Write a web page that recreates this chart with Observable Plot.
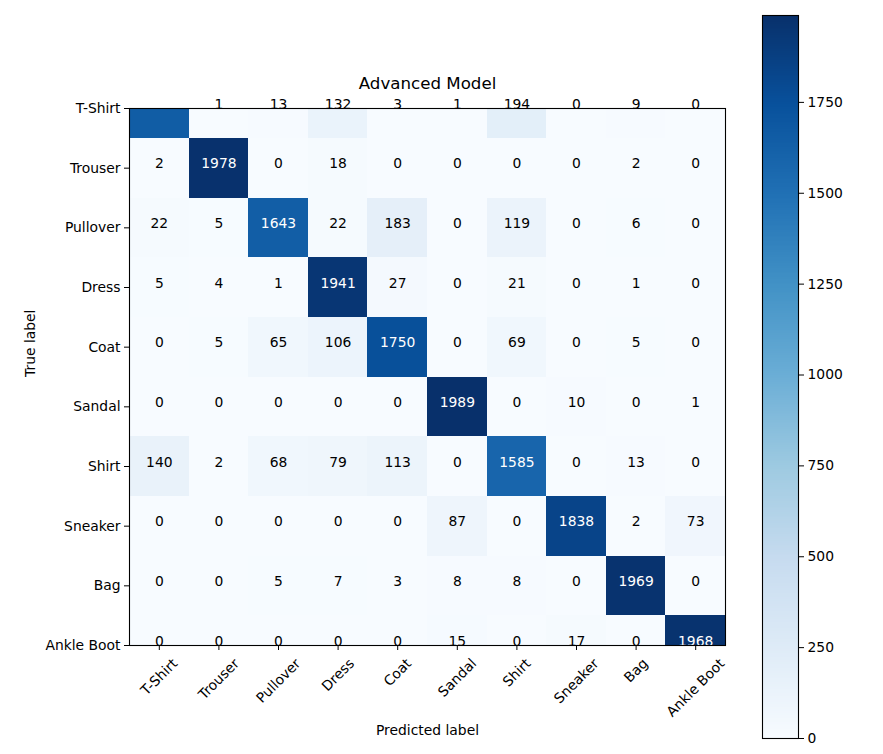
<!DOCTYPE html>
<html><head><meta charset="utf-8">
<script src="https://cdn.jsdelivr.net/npm/d3@7"></script>
<script src="https://cdn.jsdelivr.net/npm/@observablehq/plot@0.6"></script>
<style>
html,body{margin:0;padding:0;background:#fff;}
#wrap{position:relative;width:883px;height:754px;overflow:hidden;}
#wrap svg{position:absolute;top:0;}
</style></head><body><div id="wrap"></div>
<script>
// Class names (true rows / predicted columns)
const classes = ["T-Shirt","Trouser","Pullover","Dress","Coat","Sandal","Shirt","Sneaker","Bag","Ankle Boot"];
// Confusion matrix rows (true label), columns = predicted label
const tShirtRow    = [1647, 1, 13, 132, 3, 1, 194, 0, 9, 0];
const trouserRow   = [2, 1978, 0, 18, 0, 0, 0, 0, 2, 0];
const pulloverRow  = [22, 5, 1643, 22, 183, 0, 119, 0, 6, 0];
const dressRow     = [5, 4, 1, 1941, 27, 0, 21, 0, 1, 0];
const coatRow      = [0, 5, 65, 106, 1750, 0, 69, 0, 5, 0];
const sandalRow    = [0, 0, 0, 0, 0, 1989, 0, 10, 0, 1];
const shirtRow     = [140, 2, 68, 79, 113, 0, 1585, 0, 13, 0];
const sneakerRow   = [0, 0, 0, 0, 0, 87, 0, 1838, 2, 73];
const bagRow       = [0, 0, 5, 7, 3, 8, 8, 0, 1969, 0];
const ankleBootRow = [0, 0, 0, 0, 0, 15, 0, 17, 0, 1968];
const colorbarTicks = [0, 250, 500, 750, 1000, 1250, 1500, 1750];
const titleText = "Advanced Model";
const xLabelText = "Predicted label";
const yLabelText = "True label";

const rows = [tShirtRow, trouserRow, pulloverRow, dressRow, coatRow, sandalRow, shirtRow, sneakerRow, bagRow, ankleBootRow];
const cells = rows.flatMap((r, i) => r.map((v, j) => ({row: i, col: j, value: v})));
const vmax = d3.max(cells, d => d.value);
const thresh = vmax / 2;

// matplotlib "Blues" colormap (piecewise linear)
const blues = d3.piecewise(d3.interpolateRgb, ["#f7fbff","#deebf7","#c6dbef","#9ecae1","#6baed6","#4292c6","#2171b5","#08519c","#08306b"]);

const FS = 13.89;
const font = `${FS}px "DejaVu Sans"`;
const ctx = document.createElement("canvas").getContext("2d");
ctx.font = font;
const lineH = FS * 1.164;

const xLabelMarks = classes.map((c, i) => {
  const w = ctx.measureText(c).width;
  const H = (w + lineH) * Math.SQRT1_2;
  return Plot.text([i], {x: d => d, text: () => c, frameAnchor: "bottom", dy: 10 + H / 2, rotate: -45, textAnchor: "middle", lineAnchor: "middle", fill: "black"});
});

const baseStyle = {font, color: "black", background: "transparent", overflow: "visible"};

const main = Plot.plot({
  width: 883, height: 754,
  marginLeft: 129, marginRight: 158, marginTop: 108, marginBottom: 109,
  style: baseStyle,
  x: {type: "linear", domain: [-0.5, 9.5]},
  y: {type: "linear", domain: [0, 9], reverse: true},
  color: {type: "linear", domain: [0, vmax], interpolate: blues},
  marks: [
    Plot.rect(cells, {x1: d => d.col - 0.5, x2: d => d.col + 0.5, y1: d => d.row - 0.5, y2: d => d.row + 0.5, fill: "value", clip: true, shapeRendering: "crispEdges"}),
    Plot.text(cells.filter(d => d.value > thresh), {x: "col", y: "row", text: d => String(d.value), fill: "white", lineAnchor: "bottom"}),
    Plot.frame({stroke: "black", strokeWidth: 1.1}),
    Plot.axisX({ticks: d3.range(10), tickFormat: () => "", tickSize: 5, label: null}),
    Plot.axisY({ticks: d3.range(10), tickFormat: i => classes[i], tickSize: 5, tickPadding: 4, label: null, fill: "black"}),
    Plot.text(cells.filter(d => d.value <= thresh), {x: "col", y: "row", text: d => String(d.value), fill: "black", lineAnchor: "bottom"}),
    ...xLabelMarks,
    Plot.text([xLabelText], {frameAnchor: "bottom", dy: 89, lineAnchor: "bottom", text: d => d, fill: "black"}),
    Plot.text([yLabelText], {frameAnchor: "left", dx: -99, rotate: -90, text: d => d, fill: "black"}),
    Plot.text([titleText], {frameAnchor: "top", dy: -20, lineAnchor: "bottom", fontSize: 16.67, text: d => d, fill: "black"})
  ]
});
main.style.left = "0px";

const nBins = 400;
const step = vmax / nBins;
const bins = d3.range(nBins).map(k => ({lo: k * step, hi: (k + 1) * step}));

const cbar = Plot.plot({
  width: 143, height: 754,
  marginLeft: 22, marginRight: 85, marginTop: 15, marginBottom: 16,
  style: baseStyle,
  x: {domain: [0, 1], axis: null},
  y: {domain: [0, vmax]},
  color: {type: "linear", domain: [0, vmax], interpolate: blues},
  marks: [
    Plot.rect(bins, {x1: 0, x2: 1, y1: "lo", y2: "hi", fill: d => (d.lo + d.hi) / 2, shapeRendering: "crispEdges"}),
    Plot.frame({stroke: "black", strokeWidth: 1.1}),
    Plot.axisY(colorbarTicks, {anchor: "right", tickSize: 5, tickPadding: 4, label: null, tickFormat: d => String(d), fill: "black"})
  ]
});
cbar.style.left = "740px";

const wrap = document.getElementById("wrap");
wrap.appendChild(main);
wrap.appendChild(cbar);
</script>
</body></html>
